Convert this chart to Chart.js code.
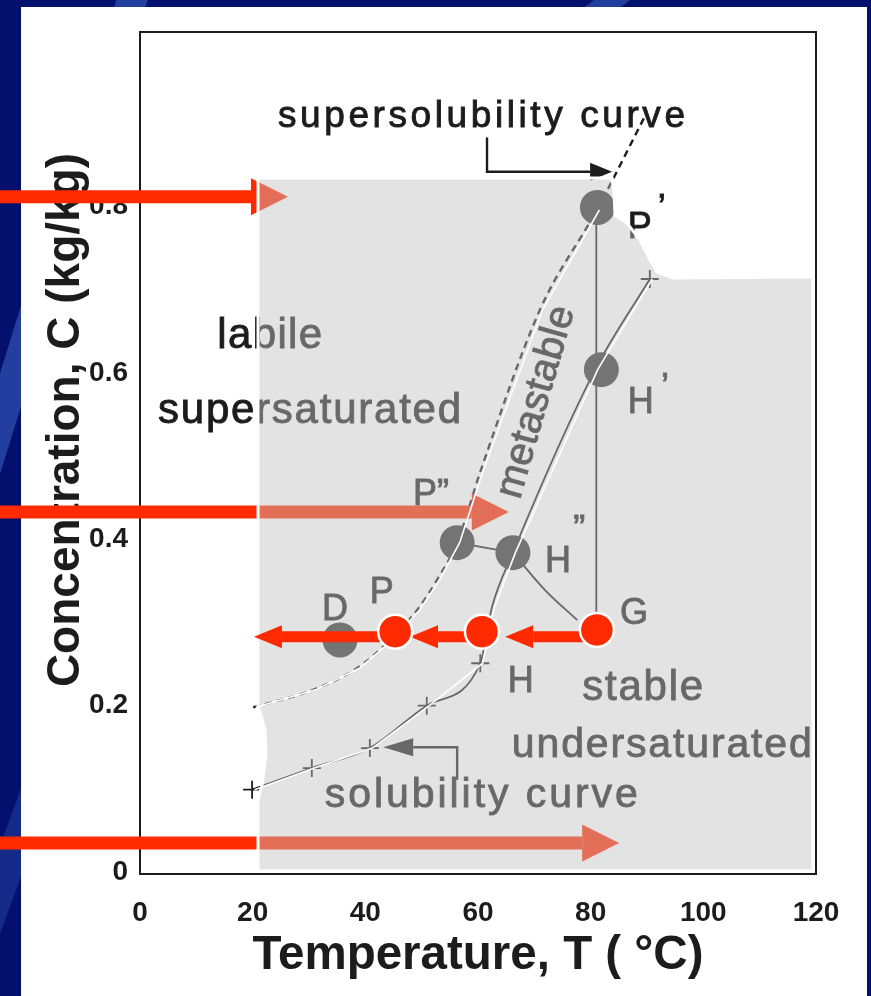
<!DOCTYPE html>
<html>
<head>
<meta charset="utf-8">
<title>Supersolubility diagram</title>
<script src="https://cdn.jsdelivr.net/npm/chart.js@4.4.1/dist/chart.umd.min.js"></script>
<style>
html,body{margin:0;padding:0;background:#04116c;overflow:hidden;}
#wrap{width:871px;height:996px;}
canvas{display:block;}
</style>
</head>
<body>
<div id="wrap"><canvas id="chart" width="871" height="996"></canvas></div>
<script>
// ===== values =====
const xTickValues = [0, 20, 40, 60, 80, 100, 120];
const yTickValues = [0, 0.2, 0.4, 0.6, 0.8];
const yTickLabels = ['0', '0.2', '0.4', '0.6', '0.8'];

// supersolubility curve (dashed)
const superT = [20.1, 30.7, 38.5, 44.4, 49.2, 52.7, 56.3, 60.5, 71.0, 81.1, 89.5];
const superC = [0.198, 0.219, 0.245, 0.279, 0.315, 0.351, 0.396, 0.483, 0.676, 0.796, 0.907];

// solubility curve (solid) and its "+" data points
const solT = [19.9, 30.5, 40.8, 50.9, 60.4, 62.5, 66.2, 80.8, 90.5];
const solC = [0.099, 0.125, 0.149, 0.200, 0.251, 0.319, 0.384, 0.604, 0.713];
const crossT = [19.9, 30.5, 40.8, 50.9, 60.4, 90.5];
const crossC = [0.099, 0.125, 0.149, 0.200, 0.251, 0.713];

// grey state points: D, P'', H'', P', H'
const stateT = [35.5, 56.3, 66.2, 81.2, 81.9];
const stateC = [0.279, 0.396, 0.384, 0.799, 0.604];

// connecting lines
const vertT = [81.0, 81.0];        const vertC = [0.291, 0.799];
const phT = [56.3, 66.2];          const phC = [0.396, 0.384];
const hgT = [66.2, 71.9, 77.6];    const hgC = [0.384, 0.339, 0.303];

// red process points P, H, G
const redT = [45.3, 60.7, 81.1];
const redC = [0.289, 0.289, 0.291];
// red process arrows (start, head base)
const procStartT = [81.1, 60.7, 45.3];
const procBaseT = [69.8, 52.9, 25.2];
const procC = 0.283;

// red arrows coming in from the left (head base)
const inC = [0.812, 0.433, 0.035];
const inStartT = -25;
const inBaseT = [19.7, 58.9, 78.5];

// callout arrows for the curve labels
const superCallT = [61.6, 61.6, 79.9]; const superCallC = [0.883, 0.842, 0.842];
const solCallT = [56.3, 56.3, 48.5];   const solCallC = [0.111, 0.150, 0.150];

// ===== helpers / styles =====
const FONT = '"Liberation Sans", Arial, Helvetica, sans-serif';
const INK = '#1c1c1c';
const RED = '#ff2a00';
const pts = (ts, cs) => ts.map((t, i) => ({x: t, y: cs[i]}));

const notes = [
  {text: 'supersolubility curve', t: 24.5, c: 0.8958, size: 37, width: 407},
  {text: 'labile', t: 13.7, c: 0.630, size: 42, width: 105},
  {text: 'supersaturated', t: 3.2, c: 0.5399, size: 42, width: 303},
  {text: 'metastable', t: 72.25, c: 0.5615, size: 40, width: 198, rotate: -74, align: 'center'},
  {text: 'P\u201D', t: 48.47, c: 0.4413, size: 36},
  {text: 'H', t: 71.9, c: 0.3607, size: 36},
  {text: '\u201D', t: 76.9, c: 0.398, size: 36},
  {text: 'P', t: 86.6, c: 0.762, size: 36},
  {text: '\u2019', t: 91.9, c: 0.7835, size: 36},
  {text: 'H', t: 86.6, c: 0.5519, size: 36},
  {text: '\u2019', t: 92.5, c: 0.5687, size: 36},
  {text: 'D', t: 32.3, c: 0.3036, size: 36},
  {text: 'P', t: 40.8, c: 0.3234, size: 36},
  {text: 'G', t: 85.2, c: 0.2976, size: 36},
  {text: 'H', t: 65.3, c: 0.2164, size: 36},
  {text: 'stable', t: 78.5, c: 0.2068, size: 42, width: 121},
  {text: 'undersaturated', t: 66.0, c: 0.1383, size: 41, width: 300},
  {text: 'solubility curve', t: 32.8, c: 0.0782, size: 41, width: 313}
];

// grey paste-over region (data coordinates)
const overlayShape = [
  [20.95, 0.8344], [83.79, 0.8344], [84.15, 0.8164], [84.32, 0.7899], [86.45, 0.7803],
  [88.76, 0.7599], [90.53, 0.7359], [91.78, 0.7214], [94.62, 0.7142], [119.47, 0.7154],
  [119.47, 0.0012], [20.95, 0.0012], [20.95, 0.0866], [21.66, 0.1046], [22.37, 0.1407],
  [22.19, 0.1707], [20.95, 0.2008]
];

function drawNote(ctx, n, px, py) {
  ctx.save();
  ctx.font = `${n.weight || 'normal'} ${n.size}px ${FONT}`;
  ctx.fillStyle = n.color || INK;
  ctx.strokeStyle = n.color || INK;
  ctx.lineWidth = 0.9;
  ctx.letterSpacing = '0px';
  if (n.width) {
    const w = ctx.measureText(n.text).width;
    ctx.letterSpacing = ((n.width - w) / Math.max(1, n.text.length - 1)) + 'px';
  }
  ctx.translate(px, py);
  if (n.rotate) ctx.rotate(n.rotate * Math.PI / 180);
  ctx.textAlign = n.align || 'left';
  ctx.textBaseline = 'alphabetic';
  ctx.fillText(n.text, 0, 0);
  ctx.strokeText(n.text, 0, 0);
  ctx.restore();
}

function drawOverlay(chart) {
  const {ctx, scales: {x, y}} = chart;
  ctx.save();
  ctx.beginPath();
  overlayShape.forEach(([t, c], i) => {
    const px = x.getPixelForValue(t), py = y.getPixelForValue(c);
    if (i) ctx.lineTo(px, py); else ctx.moveTo(px, py);
  });
  ctx.closePath();
  ctx.fillStyle = 'rgba(194,194,194,0.46)';
  ctx.fill();
  ctx.strokeStyle = '#ffffff';
  ctx.lineWidth = 3;
  ctx.stroke();
  // white cut-out traces along the two curves
  ctx.strokeStyle = '#ffffff';
  ctx.lineWidth = 1.6;
  [[0, 10], [1, 9]].forEach(([di, n]) => {
    const m = chart.getDatasetMeta(di);
    ctx.beginPath();
    m.data.slice(0, n).forEach((p, i) => { if (i) ctx.lineTo(p.x + 2.5, p.y); else ctx.moveTo(p.x + 2.5, p.y); });
    ctx.stroke();
  });
  ctx.restore();
}

const backgroundPlugin = {
  id: 'slideBackground',
  beforeDraw(chart) {
    const ctx = chart.ctx;
    ctx.save();
    ctx.fillStyle = '#04116c';
    ctx.fillRect(0, 0, chart.width, chart.height);
    ctx.lineCap = 'butt';
    ctx.strokeStyle = 'rgba(60,100,200,0.55)';
    ctx.lineWidth = 30;
    ctx.beginPath(); ctx.moveTo(135, -10); ctx.lineTo(-30, 520); ctx.stroke();
    ctx.lineWidth = 22;
    ctx.beginPath(); ctx.moveTo(625, -10); ctx.lineTo(560, 40); ctx.stroke();
    ctx.strokeStyle = 'rgba(40,70,170,0.45)';
    ctx.lineWidth = 30;
    ctx.beginPath(); ctx.moveTo(40, 780); ctx.lineTo(-40, 1000); ctx.stroke();
    ctx.fillStyle = '#ffffff';
    ctx.fillRect(21, 7, 846, 995);
    ctx.restore();
  },
  beforeDatasetsDraw(chart) {
    const {ctx, chartArea: a, scales: {x, y}} = chart;
    ctx.save();
    ctx.strokeStyle = INK;
    ctx.lineWidth = 2;
    ctx.strokeRect(a.left, a.top, a.right - a.left, a.bottom - a.top + 2);
    ctx.restore();
    notes.forEach(n => drawNote(ctx, n, x.getPixelForValue(n.t), y.getPixelForValue(n.c)));
    chart.$overlayDone = false;
  },
  beforeDatasetDraw(chart, args) {
    const ds = chart.data.datasets[args.index];
    if (ds.front && !chart.$overlayDone) {
      drawOverlay(chart);
      chart.$overlayDone = true;
    }
  },
  afterDatasetDraw(chart, args) {
    const ds = chart.data.datasets[args.index];
    if (!ds.arrow) return;
    const p = args.meta.data;
    const a = p[p.length - 2], b = p[p.length - 1];
    const ang = Math.atan2(b.y - a.y, b.x - a.x);
    const ctx = chart.ctx;
    ctx.save();
    ctx.translate(b.x, b.y);
    ctx.rotate(ang);
    ctx.beginPath();
    ctx.moveTo(ds.arrow.len, 0);
    ctx.lineTo(0, -ds.arrow.width / 2);
    ctx.lineTo(0, ds.arrow.width / 2);
    ctx.closePath();
    ctx.fillStyle = ds.borderColor;
    ctx.fill();
    ctx.restore();
  }
};

const lineDs = (label, data, extra) => Object.assign({
  label, data, showLine: true, borderColor: INK, borderWidth: 1.8,
  pointRadius: 0, pointHoverRadius: 0, fill: false
}, extra);

const datasets = [
  lineDs('supersolubility curve', pts(superT, superC), {borderWidth: 2.4, borderDash: [7, 5], cubicInterpolationMode: 'monotone', order: 50}),
  lineDs('solubility curve', pts(solT, solC), {cubicInterpolationMode: 'monotone', order: 50}),
  {label: 'solubility data', data: pts(crossT, crossC), pointStyle: 'cross', pointRadius: 9, pointBorderWidth: 1.8,
   borderColor: INK, backgroundColor: INK, order: 49},
  lineDs('G to P\u2032', pts(vertT, vertC), {order: 48}),
  lineDs('P\u2033 to H\u2033', pts(phT, phC), {order: 48}),
  lineDs('H\u2033 to G', pts(hgT, hgC), {tension: 0.35, order: 48}),
  lineDs('supersolubility callout', pts(superCallT, superCallC), {borderWidth: 2.4, arrow: {len: 22, width: 18}, clip: false, order: 48}),
  lineDs('solubility callout', pts(solCallT, solCallC), {borderWidth: 2.4, arrow: {len: 30, width: 18}, order: 48}),
  {label: 'states', data: pts(stateT, stateC), pointRadius: 17.5, pointHoverRadius: 17.5, backgroundColor: '#333333',
   borderWidth: 0, order: 45},
  ...inC.map((c, i) => lineDs('incoming ' + (i + 1), [{x: inStartT, y: c}, {x: inBaseT[i], y: c}],
    {borderColor: RED, borderWidth: 13, clip: false, arrow: {len: 37, width: 37}, order: 40})),
  ...procStartT.map((t, i) => lineDs('process ' + (i + 1), [{x: t, y: procC}, {x: procBaseT[i], y: procC}],
    {borderColor: RED, borderWidth: 11, clip: false, arrow: {len: 28, width: 23}, front: true, order: 5})),
  {label: 'process points', data: pts(redT, redC), pointRadius: 17, pointHoverRadius: 17, backgroundColor: RED,
   borderColor: '#ffffff', borderWidth: 2.5, front: true, order: 1}
];

new Chart(document.getElementById('chart'), {
  type: 'scatter',
  data: {datasets},
  options: {
    responsive: false,
    animation: false,
    events: [],
    devicePixelRatio: 1,
    layout: {padding: {left: 0, right: 55, top: 32, bottom: 0}},
    plugins: {legend: {display: false}, tooltip: {enabled: false}},
    scales: {
      x: {
        type: 'linear', min: 0, max: 120,
        afterBuildTicks(scale) { scale.ticks = xTickValues.map(v => ({value: v})); },
        afterFit(scale) { scale.height = 124; },
        grid: {display: false, drawTicks: false},
        border: {display: false},
        ticks: {autoSkip: false, maxRotation: 0, padding: 24, color: INK,
                font: {family: FONT, size: 28, weight: 'bold'}, callback: v => String(v)},
        title: {display: true, text: 'Temperature, T ( \u00B0C)', color: INK,
                font: {family: FONT, size: 47.5, weight: 'bold'}, padding: {top: 0, bottom: 12}}
      },
      y: {
        type: 'linear', min: 0, max: 1.01,
        afterBuildTicks(scale) { scale.ticks = yTickValues.map(v => ({value: v})); },
        afterFit(scale) { scale.width = 140; },
        grid: {display: false, drawTicks: false},
        border: {display: false},
        ticks: {autoSkip: false, padding: 12, color: INK,
                font: {family: FONT, size: 28, weight: 'bold'},
                callback: (v, i) => yTickLabels[i]},
        title: {display: true, text: '     Concentration, C (kg/kg)', color: INK,
                font: {family: FONT, size: 46, weight: 'bold'}, padding: {top: 39, bottom: 0}}
      }
    }
  },
  plugins: [backgroundPlugin]
});
</script>
</body>
</html>
